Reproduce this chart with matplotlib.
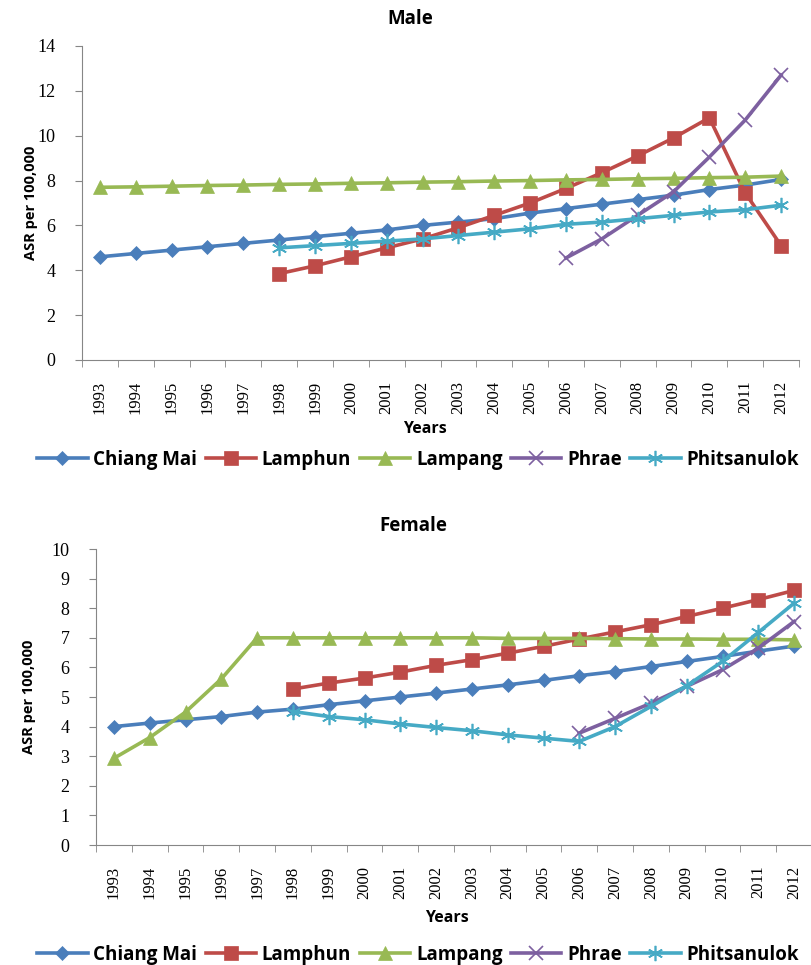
import matplotlib
matplotlib.use("Agg")
import matplotlib.pyplot as plt
import numpy as np

years = [str(y) for y in range(1993, 2013)]
names = ["Chiang Mai", "Lamphun", "Lampang", "Phrae", "Phitsanulok"]

# male ASR, None = no data
male_chiangmai = [4.6, 4.75, 4.9, 5.05, 5.2, 5.35, 5.5, 5.65, 5.8, 6.0,
                  6.15, 6.3, 6.55, 6.75, 6.95, 7.15, 7.35, 7.6, 7.8, 8.05]
male_lamphun = [None] * 5 + [3.85, 4.2, 4.6, 5.0, 5.4, 5.9, 6.45, 7.0, 7.65,
                             8.35, 9.1, 9.9, 10.8, 7.45, 5.1]
male_lampang = [7.7, 7.72, 7.75, 7.78, 7.8, 7.83, 7.85, 7.88, 7.9, 7.93,
                7.95, 7.98, 8.0, 8.03, 8.05, 8.08, 8.1, 8.13, 8.15, 8.2]
male_phrae = [None] * 13 + [4.55, 5.4, 6.45, 7.5, 9.05, 10.7, 12.7]
male_phitsanulok = [None] * 5 + [5.0, 5.1, 5.2, 5.3, 5.4, 5.55, 5.7, 5.85,
                                 6.05, 6.15, 6.3, 6.45, 6.6, 6.7, 6.9]

# female ASR
female_chiangmai = [4.0, 4.12, 4.23, 4.34, 4.49, 4.59, 4.74, 4.87, 5.0, 5.13,
                    5.27, 5.41, 5.56, 5.72, 5.86, 6.03, 6.2, 6.37, 6.55, 6.72]
female_lamphun = [None] * 5 + [5.27, 5.47, 5.64, 5.84, 6.07, 6.26, 6.48, 6.71,
                               6.96, 7.2, 7.44, 7.72, 8.0, 8.29, 8.6]
female_lampang = [2.93, 3.63, 4.49, 5.61, 7.0, 7.0, 7.0, 7.0, 7.0, 7.0,
                  7.0, 6.98, 6.98, 6.98, 6.97, 6.96, 6.96, 6.95, 6.95, 6.93]
female_phrae = [None] * 13 + [3.78, 4.28, 4.79, 5.36, 5.92, 6.65, 7.55]
female_phitsanulok = [None] * 5 + [4.51, 4.34, 4.23, 4.09, 3.97, 3.86, 3.72,
                                   3.61, 3.5, 4.0, 4.68, 5.38, 6.2, 7.18, 8.17]

colors = ["#4A7EBB", "#BE4B48", "#98B954", "#7D60A0", "#46AAC5"]
markers = ["D", "s", "^", "x", (6, 2, 0)]
msizes = [7, 9.5, 10, 10, 11]

serif = "Liberation Serif"
sans = "Open Sans"


def draw(rect, series, ymax, ystep):
    ax = fig.add_axes(rect)
    x = np.arange(len(years))
    for vals, c, m, ms, n in zip(series, colors, markers, msizes, names):
        v = np.array([np.nan if a is None else a for a in vals], dtype=float)
        ax.plot(x, v, color=c, lw=2.6, marker=m, markersize=ms,
                markeredgewidth=1.2 if m in ("x", (6, 2, 0)) else 0.5,
                markeredgecolor=c, label=n, clip_on=False)
    ax.set_xlim(-0.5, len(years) - 0.5)
    ax.set_ylim(0, ymax)
    ax.set_yticks(np.arange(0, ymax + 0.1, ystep))
    ax.set_xticks(x)
    ax.set_xticklabels(years, rotation=90, fontfamily=serif, fontsize=12)
    ax.set_xticks(np.arange(-0.5, len(years)), minor=True)
    ax.tick_params(axis="x", which="major", length=0, pad=15)
    ax.tick_params(axis="x", which="minor", length=5, color="#868686")
    ax.tick_params(axis="y", length=5, color="#868686", pad=14)
    for lab in ax.get_yticklabels():
        lab.set_fontfamily(serif)
        lab.set_fontsize(13)
    for s in ("top", "right"):
        ax.spines[s].set_visible(False)
    for s in ("left", "bottom"):
        ax.spines[s].set_color("#868686")
    ax.set_ylabel("ASR per 100,000", fontfamily=sans, fontweight="bold",
                  fontsize=10.5)
    return ax


fig = plt.figure(figsize=(8.11, 9.65), dpi=100)
W, H = 811, 965

ax1 = draw([82 / W, 1 - 360 / H, 717 / W, 314 / H],
           [male_chiangmai, male_lamphun, male_lampang, male_phrae,
            male_phitsanulok], 14, 2)
ax1.yaxis.set_label_coords(-44 / 717, 0.5)
ax2 = draw([96 / W, 1 - 845 / H, 716 / W, 296 / H],
           [female_chiangmai, female_lamphun, female_lampang, female_phrae,
            female_phitsanulok], 10, 1)
ax2.yaxis.set_label_coords(-60 / 716, 0.5)

fig.text(410 / W, 1 - 19 / H, "Male", ha="center", va="center",
         fontfamily=sans, fontweight="bold", fontsize=13.5)
fig.text(413 / W, 1 - 526 / H, "Female", ha="center", va="center",
         fontfamily=sans, fontweight="bold", fontsize=13.5)
fig.text(425 / W, 1 - 429 / H, "Years", ha="center", va="center",
         fontfamily=sans, fontweight="bold", fontsize=11.5)
fig.text(447 / W, 1 - 918 / H, "Years", ha="center", va="center",
         fontfamily=sans, fontweight="bold", fontsize=11.5)

for ax, yc in ((ax1, 460), (ax2, 955)):
    handles, labels = ax.get_legend_handles_labels()
    fig.legend(handles, labels, loc="center", bbox_to_anchor=(418 / W, 1 - yc / H),
               ncol=5, frameon=False, handlelength=2.7, handletextpad=0.3,
               columnspacing=0.45, borderpad=0, borderaxespad=0,
               prop={"family": sans, "weight": "bold", "size": 13.5})

fig.savefig("out.png", dpi=100)
